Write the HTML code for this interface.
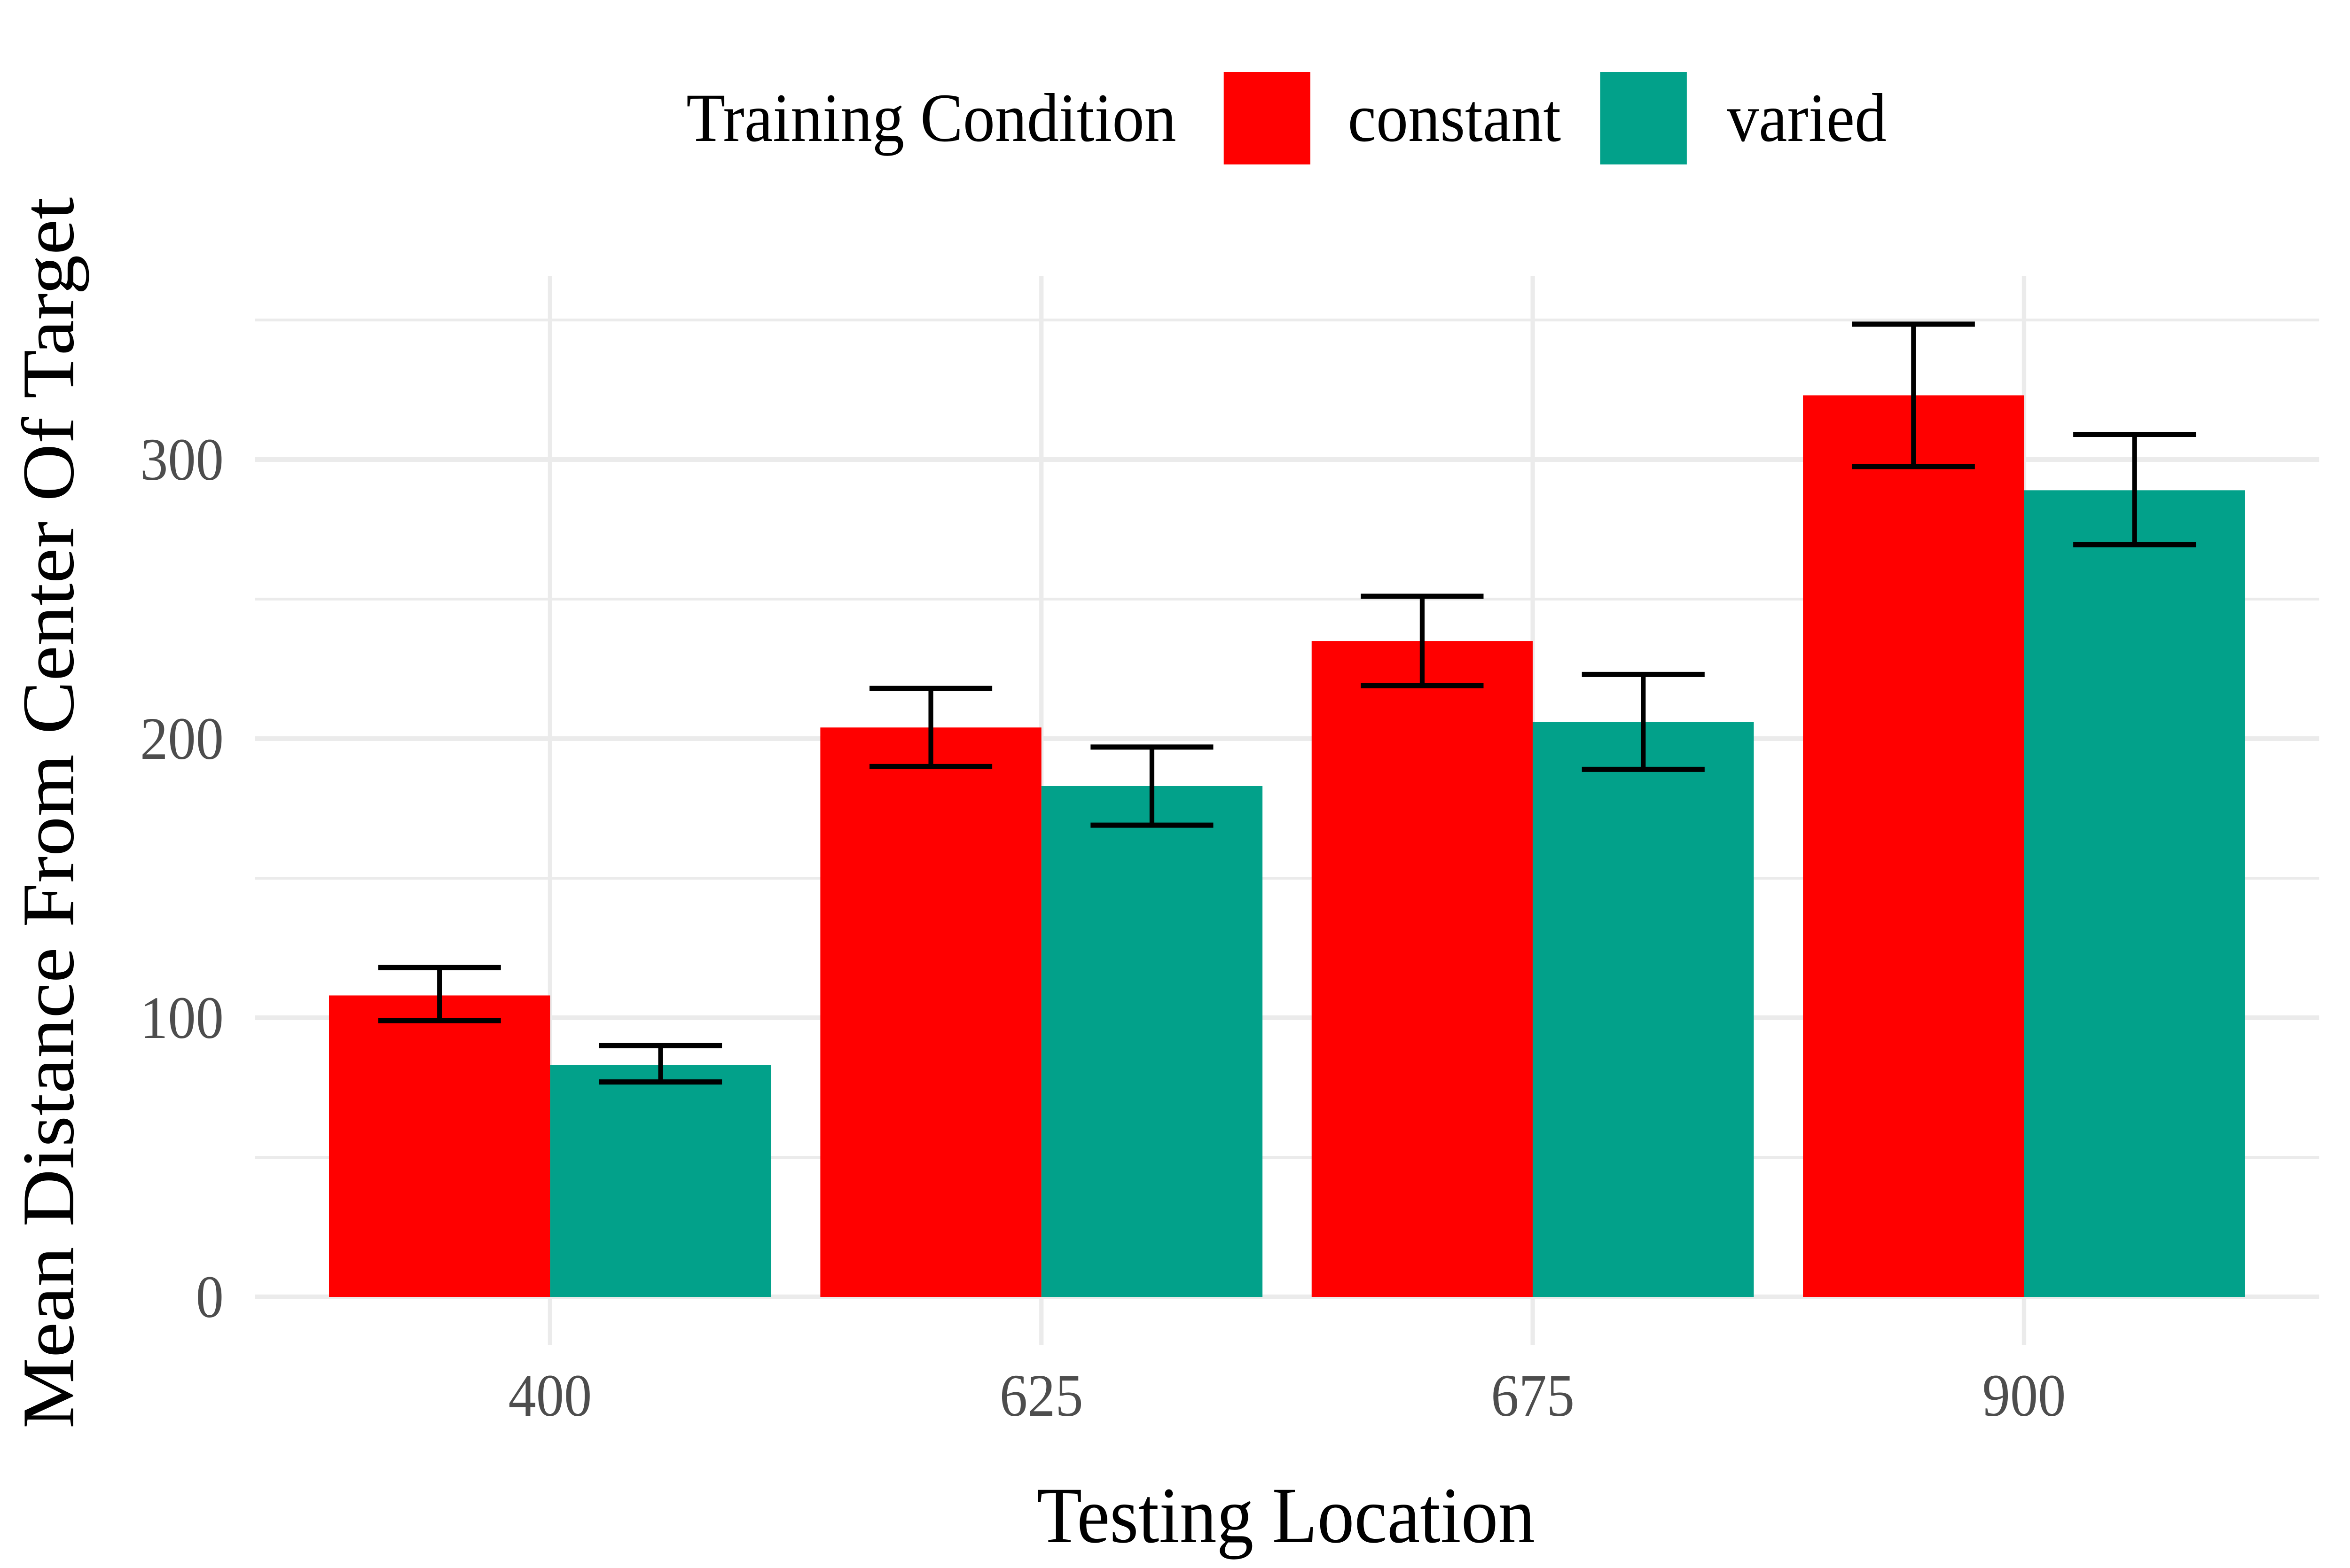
<!DOCTYPE html>
<html><head><meta charset="utf-8"><style>
html,body{margin:0;padding:0;background:#fff;width:100%;height:100%;overflow:hidden;}
svg{display:block;position:absolute;left:0;top:0;width:100vw;height:100vh;font-family:"Liberation Serif",serif;}
</style></head><body>
<svg id="chart" viewBox="0 0 5400 3337" preserveAspectRatio="none">
<g id="grid"></g>
<g id="bars"></g>
<g id="errs"></g>
<g id="axes"></g>
<text x="2955" y="3282" font-size="170" text-anchor="middle" fill="#000">Testing Location</text>
<text transform="translate(168,1730) rotate(-90)" font-size="170" text-anchor="middle" fill="#000">Mean Distance From Center Of Target</text>
<g>
<text x="1577" y="300" font-size="147" fill="#000">Training Condition</text>
<rect x="2812" y="153" width="199" height="197" fill="#ff0000"/>
<text x="3097" y="300" font-size="147" fill="#000">constant</text>
<rect x="3677" y="153" width="199" height="197" fill="#02a18a"/>
<text x="3968" y="300" font-size="147" fill="#000">varied</text>
</g>
</svg>
<script>
const categories = ["400","625","675","900"];
const constantMeans = [108, 204, 235, 323];
const constantLow = [99, 190, 219, 297.5];
const constantHigh = [118, 218, 251, 348.5];
const variedMeans = [83, 183, 206, 289];
const variedLow = [77, 169, 189, 269.5];
const variedHigh = [90, 197, 223, 309];
const yTicks = [0, 100, 200, 300];
const yMinor = [50, 150, 250, 350];

const NS = "http://www.w3.org/2000/svg";
const y0 = 2760, pxPerUnit = 5.94;
const x0 = 1264, catStep = 1129, barW = 508, capHalf = 141;
const plotL = 586, plotR = 5329, plotT = 587, plotB = 2863;
function yS(v){ return y0 - v * pxPerUnit; }
function xS(i){ return x0 + i * catStep; }
function mk(tag, attrs, parent){ const e = document.createElementNS(NS, tag); for (const k in attrs) e.setAttribute(k, attrs[k]); parent.appendChild(e); return e; }

const grid = document.getElementById('grid');
const bars = document.getElementById('bars');
const errs = document.getElementById('errs');
const axes = document.getElementById('axes');

yMinor.forEach(v => {
  const l = mk('line', {x1: plotL, x2: plotR, y1: yS(v), y2: yS(v), stroke: '#ebebeb', 'stroke-width': 6}, grid);
  
  
});
yTicks.forEach(v => {
  const l = mk('line', {x1: plotL, x2: plotR, y1: yS(v), y2: yS(v), stroke: '#ebebeb', 'stroke-width': 10}, grid);
  
  
  const t = mk('text', {x: 514, y: yS(v) + 43, 'font-size': 128, 'text-anchor': 'end', fill: '#4d4d4d'}, axes);
  t.textContent = v;
  
  
});
categories.forEach((c, i) => {
  const l = mk('line', {x1: xS(i), x2: xS(i), y1: plotT, y2: plotB, stroke: '#ebebeb', 'stroke-width': 10}, grid);
  
  
  const t = mk('text', {x: xS(i), y: 3013, 'font-size': 128, 'text-anchor': 'middle', fill: '#4d4d4d'}, axes);
  t.textContent = c;
  
  
});

function drawSeries(means, lo, hi, color, offset, name){
  means.forEach((m, i) => {
    const left = xS(i) + offset;
    const r = mk('rect', {x: left, y: yS(m), width: barW, height: yS(0) - yS(m), fill: color}, bars);
    
    
    const cx = left + barW / 2;
    const g = mk('g', {stroke: '#000', 'stroke-width': 11}, errs);
    
    
    mk('line', {x1: cx, x2: cx, y1: yS(hi[i]), y2: yS(lo[i])}, g);
    mk('line', {x1: cx - capHalf, x2: cx + capHalf, y1: yS(hi[i]), y2: yS(hi[i])}, g);
    mk('line', {x1: cx - capHalf, x2: cx + capHalf, y1: yS(lo[i]), y2: yS(lo[i])}, g);
  });
}
drawSeries(constantMeans, constantLow, constantHigh, '#ff0000', -barW, 'constant');
drawSeries(variedMeans, variedLow, variedHigh, '#02a18a', 0, 'varied');
</script>
</body></html>
